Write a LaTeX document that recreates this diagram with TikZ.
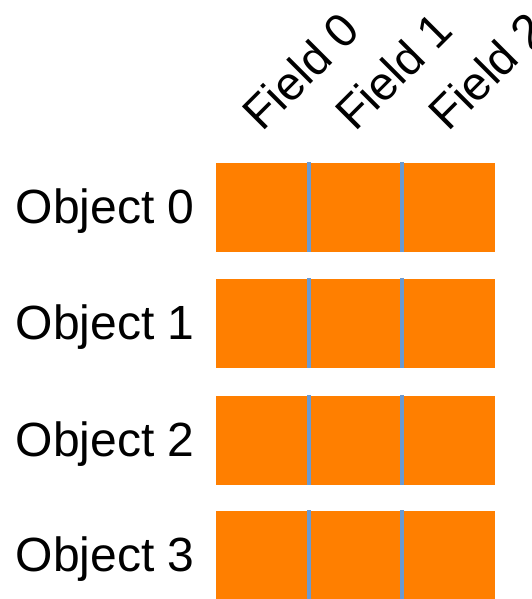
\documentclass[tikz,border=0pt]{standalone}
\usepackage{fontspec}
\setmainfont{Liberation Sans}
\usetikzlibrary{positioning}
\definecolor{porange}{HTML}{FF7F00}
\definecolor{pblued}{HTML}{6A9AD2}
\tikzset{
  % One orange field cell, no stroke.
  cell/.style   = {rectangle, fill=porange, inner sep=0pt,
                   minimum width=46.2pt, minimum height=44.5pt},
  divider/.style = {line width=2pt, pblued},
  rowlbl/.style = {font=\fontsize{24}{28}\selectfont, inner sep=0pt, anchor=base east},
  collbl/.style = {font=\fontsize{23.5}{28}\selectfont, inner sep=0pt, anchor=base west, rotate=45},
}

\begin{document}
\begin{tikzpicture}[x=0.5pt, y=-0.5pt]
\useasboundingbox (0,0) rectangle (531,599);
% object rows
\foreach \i/\y in {0/207,1/323,2/440,3/555} {
  \node[cell] (c\i0) at (262.2,\y) {};
  \node[cell, right=0pt of c\i0] (c\i1) {};
  \node[cell, right=0pt of c\i1] (c\i2) {};
  \draw[divider] (c\i0.north east) -- (c\i0.south east);
  \draw[divider] (c\i1.north east) -- (c\i1.south east);
  \node[rowlbl] (o\i) at (195,\y+16) {Object \i};
}
% field headers
\foreach \j in {0,1,2} {\node[collbl] (f\j) at ([xshift=0pt,yshift=14.5pt]c0\j.north) {Field \j};}
\end{tikzpicture}
\end{document}
